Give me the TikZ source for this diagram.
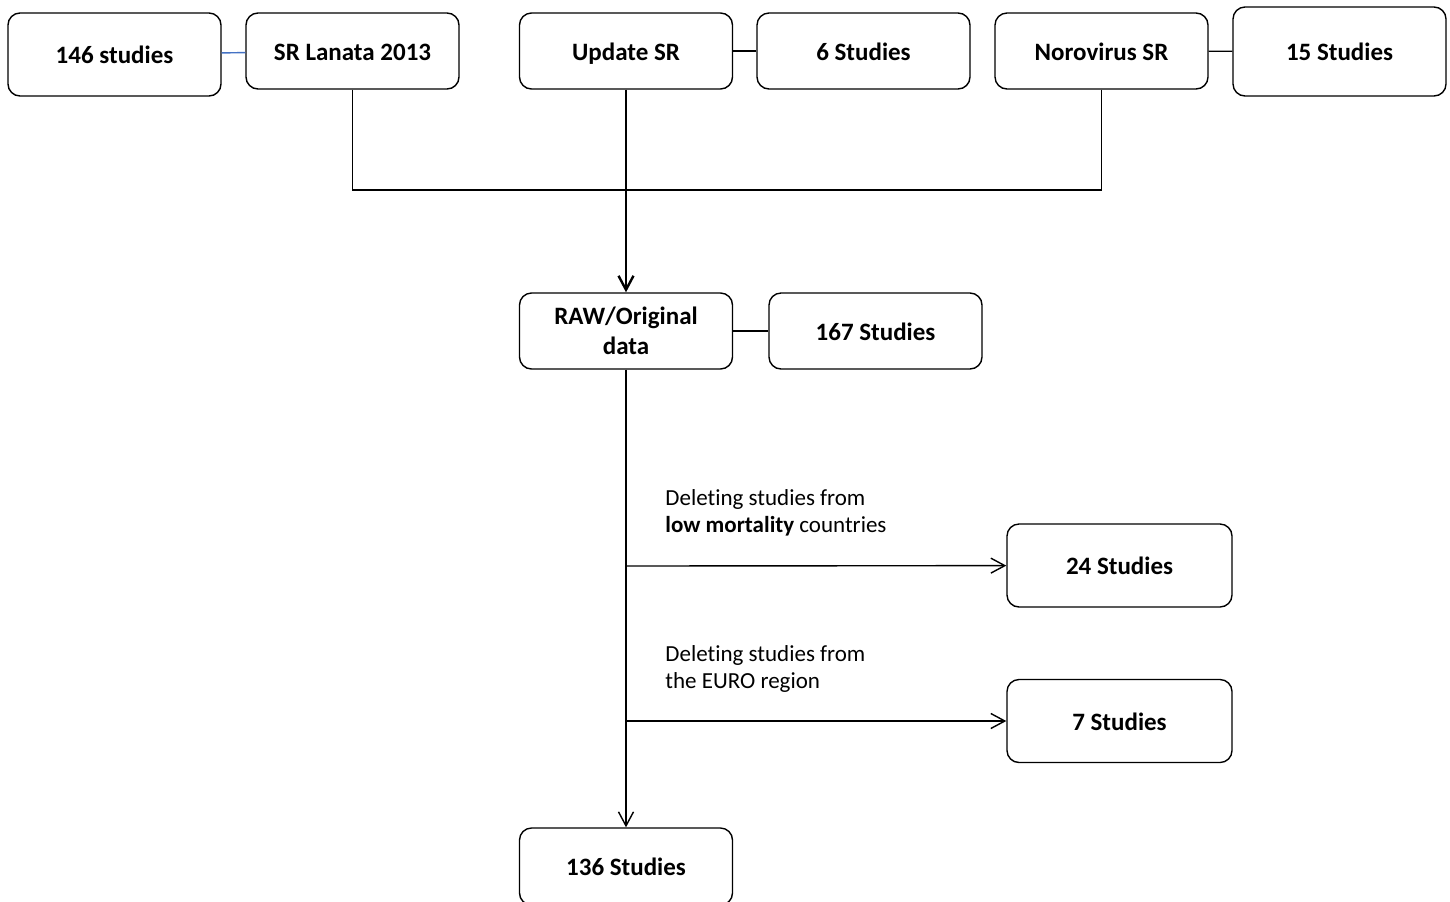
\documentclass[tikz,border=0pt]{standalone}
\usepackage{fontspec}
\setmainfont{Carlito}[Ligatures=NoCommon]
\usetikzlibrary{arrows.meta}
\definecolor{linkblue}{RGB}{68,114,196}

\begin{document}
\begin{tikzpicture}[x=0.5pt, y=-0.5pt, box/.style={draw, rounded corners=6pt, line width=0.7pt, minimum width=106.5pt, minimum height=38pt, inner sep=0pt, align=center, text height=0.9em, text depth=0pt, font=\bfseries\fontsize{12.5}{15}\selectfont}, note/.style={inner sep=0pt, align=left, anchor=north west, font=\fontsize{11.5}{13.7}\selectfont}, link/.style={line width=0.7pt}, edge/.style={line width=0.7pt, -{Straight Barb[length=7pt, width=7.5pt]}}, thick edge/.style={line width=1.2pt, -{Straight Barb[length=7pt, width=7.5pt]}}]
		\useasboundingbox (0,0) rectangle (1450,901);

		\node (n146)[box, minimum height=41.5pt] at (114.5,54.5){146 studies};
		\node (lanata)[box] at (352.5,51){SR Lanata 2013};
		\node (update)[box] at (626,51){Update SR};
		\node (n6)[box] at (863.5,51){6 Studies};
		\node (noro)[box] at (1101.5,51){Norovirus SR};
		\node (n15)[box, minimum height=44.5pt] at (1339.5,51.5){15 Studies};

		\node (raw)[box, text height={}, text depth={}] at (626,331){RAW/Original\\data};
		\node (n167)[box] at (875.5,331){167 Studies};

		\node (n24)[box, minimum width=112.5pt, minimum height=41.5pt] at (1119.5,565.5){24 Studies};
		\node (n7)[box, minimum width=112.5pt, minimum height=41.5pt] at (1119.5,721){7 Studies};
		\node (n136)[box, minimum height=38.5pt] at (626,866.5){136 Studies};

		\node (low)[note] at (665,489){Deleting studies from\\\textbf{low mortality} countries};
		\node (euro)[note] at (665,645){Deleting studies from\\the EURO region};

		\coordinate (join) at (626,190);
		\coordinate (cut1) at (626,566);
		\coordinate (cut2) at (626,721);

		\draw [link, linkblue](n146) -- (lanata);
		\draw [link](update) -- (n6);
		\draw [link](noro) -- (n15);
		\draw [link](raw) -- (n167);

		\draw [link](lanata.south) |- (join);
		\draw [link](noro.south) |- (join);
		\draw [link](update) -- (join);
		\draw [thick edge](join) -- (raw);

		\draw [edge](raw) -- (n136);
		\draw [edge](cut1) -- (n24);
		\draw [edge](cut2) -- (n7);
	\end{tikzpicture}
\end{document}
